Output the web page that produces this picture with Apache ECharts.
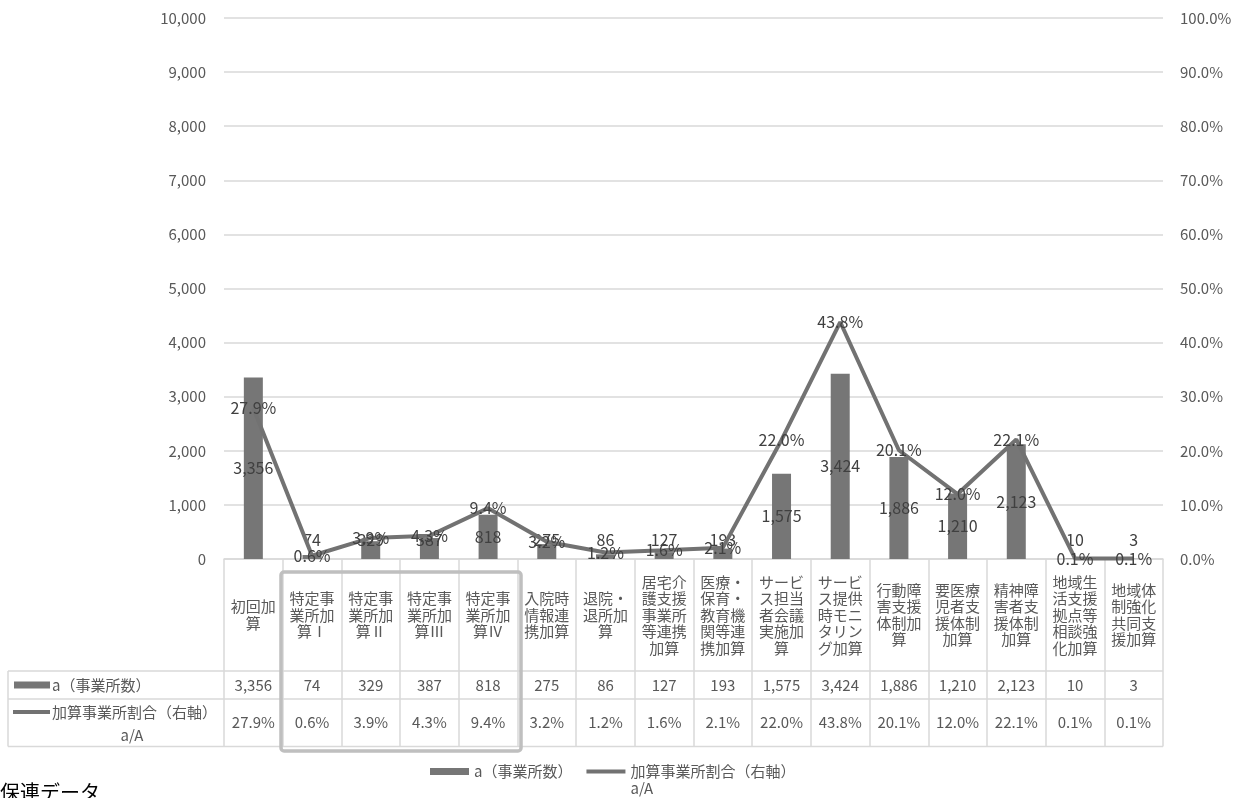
<!DOCTYPE html>
<html lang="ja">
<head>
<meta charset="utf-8">
<title>加算事業所数と割合</title>
<script src="https://cdn.jsdelivr.net/npm/echarts@6/dist/echarts.min.js"></script>
<style>
  html, body { margin: 0; padding: 0; background: #ffffff; }
  #chart { width: 1242px; height: 798px; }
</style>
</head>
<body>
<div id="chart"></div>
<script>
// Category names (pre-wrapped as in the data table header)
const categories = [
  '初回加\n算',
  '特定事\n業所加\n算Ⅰ',
  '特定事\n業所加\n算Ⅱ',
  '特定事\n業所加\n算Ⅲ',
  '特定事\n業所加\n算Ⅳ',
  '入院時\n情報連\n携加算',
  '退院・\n退所加\n算',
  '居宅介\n護支援\n事業所\n等連携\n加算',
  '医療・\n保育・\n教育機\n関等連\n携加算',
  'サービ\nス担当\n者会議\n実施加\n算',
  'サービ\nス提供\n時モニ\nタリン\nグ加算',
  '行動障\n害支援\n体制加\n算',
  '要医療\n児者支\n援体制\n加算',
  '精神障\n害者支\n援体制\n加算',
  '地域生\n活支援\n拠点等\n相談強\n化加算',
  '地域体\n制強化\n共同支\n援加算'
];

// a (事業所数)
const counts = [3356, 74, 329, 387, 818, 275, 86, 127, 193, 1575, 3424, 1886, 1210, 2123, 10, 3];

// 加算事業所割合 a/A (%)
const rates = [27.9, 0.6, 3.9, 4.3, 9.4, 3.2, 1.2, 1.6, 2.1, 22.0, 43.8, 20.1, 12.0, 22.1, 0.1, 0.1];

const barName = 'a（事業所数）';
const lineName = '加算事業所割合（右軸）\na/A';

const FONT = '"Noto Sans CJK JP", "Noto Sans", sans-serif';
const BAR_COLOR = '#767676';
const LINE_COLOR = '#727272';
const GRID_COLOR = '#d9d9d9';
const AXIS_TEXT = '#595959';
const LABEL_TEXT = '#404040';

// plot area and data-table geometry
const PLOT = { left: 224, right: 1163, top: 18, bottom: 559 };
const ROW1 = 671, ROW2 = 699, TABLE_BOTTOM = 746.5, TABLE_LEFT = 8;

const fmtCount = v => v.toLocaleString('en-US');
const fmtRate = v => v.toFixed(1) + '%';

const chart = echarts.init(document.getElementById('chart'), null, { renderer: 'canvas' });

const barData = counts.map(v => (
  v < 700
    ? { value: v, label: { position: 'insideBottom', distance: 11 } }
    : { value: v }
));

const option = {
  animation: false,
  backgroundColor: '#ffffff',
  textStyle: { fontFamily: FONT },
  grid: {
    left: PLOT.left,
    right: 1242 - PLOT.right,
    top: PLOT.top,
    bottom: 798 - PLOT.bottom,
    containLabel: false
  },
  legend: {
    left: 430,
    top: 746,
    padding: 0,
    itemWidth: 39,
    itemHeight: 7,
    itemGap: 14,
    textStyle: { color: AXIS_TEXT, fontSize: 15, lineHeight: 17, fontFamily: FONT },
    // a blank leading line keeps the first text line level with its key
    formatter: name => (name === lineName ? ' \n' + name : name),
    data: [
      { name: barName, icon: 'rect' },
      { name: lineName, icon: 'path://M0,0H39V4H0Z' }
    ]
  },
  xAxis: [
    {
      type: 'category',
      data: categories,
      position: 'bottom',
      axisLine: { show: true, lineStyle: { color: GRID_COLOR, width: 1.5 } },
      axisTick: { show: true, interval: 0, length: TABLE_BOTTOM - PLOT.bottom, lineStyle: { color: GRID_COLOR, width: 1.5 } },
      axisLabel: {
        interval: 0, margin: 56, verticalAlign: 'middle',
        color: AXIS_TEXT, fontSize: 15, lineHeight: 16.5, fontFamily: FONT
      },
      splitLine: { show: false }
    },
    {
      // data table row: a (事業所数)
      type: 'category',
      data: counts.map(fmtCount),
      position: 'bottom',
      offset: 685 - PLOT.bottom,
      axisLine: { show: false },
      axisTick: { show: false },
      axisLabel: { interval: 0, margin: 0, verticalAlign: 'middle', color: AXIS_TEXT, fontSize: 15, fontFamily: FONT },
      splitLine: { show: false }
    },
    {
      // data table row: 加算事業所割合
      type: 'category',
      data: rates.map(fmtRate),
      position: 'bottom',
      offset: 722.5 - PLOT.bottom,
      axisLine: { show: false },
      axisTick: { show: false },
      axisLabel: { interval: 0, margin: 0, verticalAlign: 'middle', color: AXIS_TEXT, fontSize: 15, fontFamily: FONT },
      splitLine: { show: false }
    }
  ],
  yAxis: [
    {
      type: 'value',
      min: 0, max: 10000, interval: 1000,
      axisLine: { show: false },
      axisTick: { show: false },
      axisLabel: { margin: 18, color: AXIS_TEXT, fontSize: 15, fontFamily: FONT, formatter: v => fmtCount(v) },
      splitLine: { show: true, lineStyle: { color: GRID_COLOR, width: 1.5 } }
    },
    {
      type: 'value',
      min: 0, max: 100, interval: 10,
      position: 'right',
      axisLine: { show: false },
      axisTick: { show: false },
      axisLabel: { margin: 17, color: AXIS_TEXT, fontSize: 15, fontFamily: FONT, formatter: v => fmtRate(v) },
      splitLine: { show: false }
    }
  ],
  series: [
    {
      name: barName,
      type: 'bar',
      xAxisIndex: 0,
      yAxisIndex: 0,
      data: barData,
      barWidth: 19,
      itemStyle: { color: BAR_COLOR },
      label: {
        show: true,
        position: 'inside',
        color: LABEL_TEXT,
        fontSize: 16,
        fontFamily: FONT,
        formatter: p => fmtCount(p.value)
      },
      z: 2
    },
    {
      name: lineName,
      type: 'line',
      xAxisIndex: 0,
      yAxisIndex: 1,
      data: rates,
      symbol: 'circle',
      symbolSize: 1,
      showSymbol: true,
      itemStyle: { color: LINE_COLOR },
      lineStyle: { color: LINE_COLOR, width: 4 },
      label: {
        show: true,
        position: 'inside',
        color: LABEL_TEXT,
        fontSize: 16,
        fontFamily: FONT,
        formatter: p => fmtRate(p.value)
      },
      z: 3
    }
  ],
  graphic: [
    // data-table horizontal rules
    { type: 'line', shape: { x1: TABLE_LEFT, y1: ROW1, x2: PLOT.right, y2: ROW1 }, style: { stroke: GRID_COLOR, lineWidth: 1.5 }, silent: true },
    { type: 'line', shape: { x1: TABLE_LEFT, y1: ROW2, x2: PLOT.right, y2: ROW2 }, style: { stroke: GRID_COLOR, lineWidth: 1.5 }, silent: true },
    { type: 'line', shape: { x1: TABLE_LEFT, y1: TABLE_BOTTOM, x2: PLOT.right, y2: TABLE_BOTTOM }, style: { stroke: GRID_COLOR, lineWidth: 1.5 }, silent: true },
    { type: 'line', shape: { x1: TABLE_LEFT, y1: ROW1, x2: TABLE_LEFT, y2: TABLE_BOTTOM }, style: { stroke: GRID_COLOR, lineWidth: 1.5 }, silent: true },
    // row headers with series keys
    { type: 'rect', shape: { x: 14, y: 681.5, width: 36, height: 7 }, style: { fill: BAR_COLOR }, silent: true },
    { type: 'text', x: 52, y: 685, style: { text: barName, fill: AXIS_TEXT, font: '15px ' + FONT, textAlign: 'left', textVerticalAlign: 'middle' }, silent: true },
    { type: 'line', shape: { x1: 13, y1: 712, x2: 50, y2: 712 }, style: { stroke: LINE_COLOR, lineWidth: 4 }, silent: true },
    { type: 'text', x: 52, y: 712, style: { text: '加算事業所割合（右軸）', fill: AXIS_TEXT, font: '15px ' + FONT, textAlign: 'left', textVerticalAlign: 'middle' }, silent: true },
    { type: 'text', x: 132, y: 735, style: { text: 'a/A', fill: AXIS_TEXT, font: '15px ' + FONT, textAlign: 'center', textVerticalAlign: 'middle' }, silent: true },
    // highlight frame around 特定事業所加算 Ⅰ〜Ⅳ
    { type: 'rect', shape: { x: 281, y: 572, width: 240, height: 179, r: 3 }, style: { fill: 'none', stroke: '#bfbfbf', lineWidth: 3.5 }, silent: true, z: 10 },
    // heading below the chart
    { type: 'text', x: 0, y: 782, style: { text: '保連データ', fill: '#000000', font: '20px ' + FONT, textAlign: 'left', textVerticalAlign: 'top' }, silent: true }
  ]
};

chart.setOption(option);
</script>
</body>
</html>
